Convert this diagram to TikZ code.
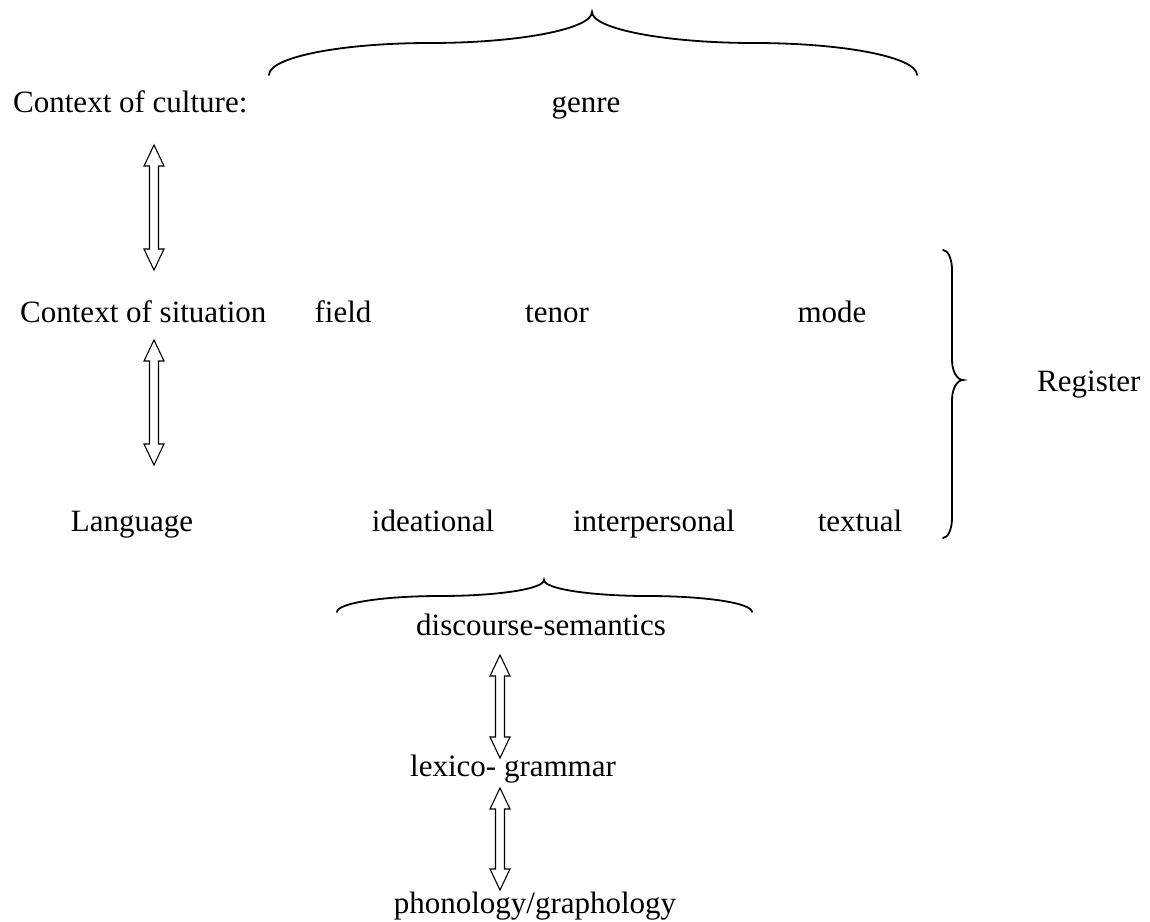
\documentclass[tikz,border=0pt]{standalone}
\usepackage{fontspec}
\setmainfont{Liberation Serif}
\usetikzlibrary{calc}

\tikzset{
  lbl/.style={font=\fontsize{31}{36}\selectfont, inner sep=0pt, anchor=base},
  bracepen/.style={line width=1.8pt, line cap=round},
  dblarrow/.style={draw, line width=1.1pt, line join=miter,
    to path={let \p1=(\tikztostart), \p2=(\tikztotarget) in
      (\x1,\y1) -- (\x1+10pt,\y1-21pt) -- (\x1+4.5pt,\y1-21pt)
      -- (\x1+4.5pt,\y2+21pt) -- (\x1+10pt,\y2+21pt) -- (\x1,\y2)
      -- (\x1-10pt,\y2+21pt) -- (\x1-4.5pt,\y2+21pt)
      -- (\x1-4.5pt,\y1-21pt) -- (\x1-10pt,\y1-21pt) -- cycle}}
}

\begin{document}
\begin{tikzpicture}[x=1pt, y=-1pt]
  \useasboundingbox (0,0) rectangle (1150,921);

  % rows of the model
  \node[lbl, anchor=base west] (culture) at (13,112) {Context of culture:};
  \node[lbl] (genre) at (586,112) {genre};

  \node[lbl, anchor=base west] (situation) at (20,322) {Context of situation};
  \node[lbl] (field) at (343,322) {field};
  \node[lbl] (tenor) at (557,322) {tenor};
  \node[lbl] (mode)  at (832,322) {mode};

  \node[lbl] (language)      at (132,531) {Language};
  \node[lbl] (ideational)    at (433,531) {ideational};
  \node[lbl] (interpersonal) at (654,531) {interpersonal};
  \node[lbl] (textual)       at (860,531) {textual};

  \node[lbl, anchor=base west] (register) at (1037,391) {Register};

  \node[lbl] (semantics) at (541,635) {discourse-semantics};
  \node[lbl, anchor=base west] (lexgram) at (410,776) {lexico- grammar};
  \node[lbl] (phonology) at (535,913) {phonology/graphology};

  % arrow ends
  \coordinate (a1top) at (154,145);
  \coordinate (a1bot) at (154,270);
  \coordinate (a2top) at (154,340);
  \coordinate (a2bot) at (154,465);
  \coordinate (a3top) at (500,655);
  \coordinate (a3bot) at (500,758);
  \coordinate (a4top) at (500,788);
  \coordinate (a4bot) at (500,890);

  \draw[dblarrow] (a1top) to (a1bot);
  \draw[dblarrow] (a2top) to (a2bot);
  \draw[dblarrow] (a3top) to (a3bot);
  \draw[dblarrow] (a4top) to (a4bot);

  % brace over genre
  \draw[bracepen] (269,75) .. controls (269,57) and (342,43) .. (430,43)
    .. controls (519,43) and (592,29) .. (592,12)
    .. controls (592,29) and (666,43) .. (754,43)
    .. controls (843,43) and (917,57) .. (917,75);

  % brace over discourse-semantics
  \draw[bracepen] (337,612) .. controls (337,603) and (384,596) .. (440,596)
    .. controls (497,596) and (544,589) .. (544,580)
    .. controls (544,589) and (592,596) .. (648,596)
    .. controls (705,596) and (752,603) .. (752,612);

  % register brace
  \draw[bracepen] (943,250) .. controls (948,250) and (952,259) .. (952,270)
    -- (952,360) .. controls (952,371) and (957,380) .. (963,380)
    .. controls (957,380) and (952,389) .. (952,400)
    -- (952,518) .. controls (952,529) and (948,538) .. (943,538);
\end{tikzpicture}
\end{document}
